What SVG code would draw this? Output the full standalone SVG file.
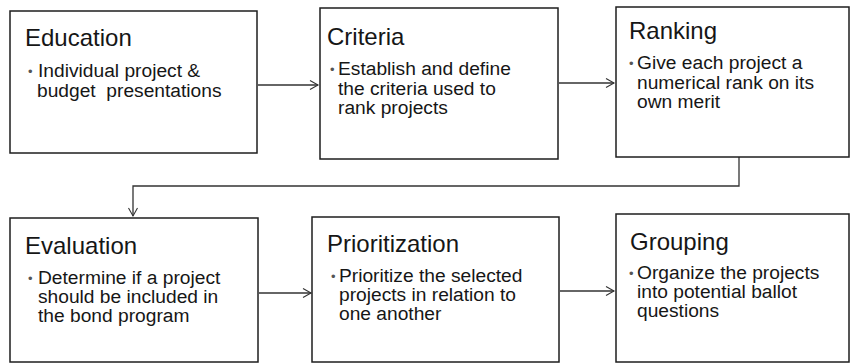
<svg xmlns="http://www.w3.org/2000/svg" width="851" height="364" viewBox="0 0 851 364">
  <defs>
    <marker id="arrow" markerWidth="12" markerHeight="12" refX="10" refY="6" orient="auto" markerUnits="userSpaceOnUse">
      <path d="M2,1.5 L10,6 L2,10.5" fill="none" stroke="#333" stroke-width="1.1"/>
    </marker>
    <style>
      .box { fill: #fff; stroke: #1e1e1e; stroke-width: 1.5; }
      .title { font-family: "Liberation Sans", Arial, sans-serif; font-size: 24px; fill: #161616; }
      .body { font-family: "Liberation Sans", Arial, sans-serif; font-size: 19.2px; fill: #161616; }
      .dot { font-family: "Liberation Sans", Arial, sans-serif; font-size: 13px; fill: #555; }
      .conn { fill: none; stroke: #333; stroke-width: 1.3; }
    </style>
  </defs>

  <rect width="851" height="364" fill="#fff"/>

  <g id="connectors">
    <line class="conn" x1="258" y1="85" x2="318" y2="85" marker-end="url(#arrow)"/>
    <line class="conn" x1="559" y1="83" x2="614" y2="83" marker-end="url(#arrow)"/>
    <polyline class="conn" points="739,157 739,186 133,186 133,216" marker-end="url(#arrow)"/>
    <line class="conn" x1="259" y1="293" x2="311" y2="293" marker-end="url(#arrow)"/>
    <line class="conn" x1="560" y1="291" x2="614" y2="291" marker-end="url(#arrow)"/>
  </g>

  <g id="education">
    <rect class="box" x="10" y="11" width="247" height="142"/>
    <text class="title" x="25" y="46">Education</text>
    <text class="dot" x="28" y="76">•</text>
    <text class="body" x="38" y="77">Individual project &amp;</text>
    <text class="body" x="37" y="97" xml:space="preserve">budget  presentations</text>
  </g>

  <g id="criteria">
    <rect class="box" x="320" y="8" width="238" height="151"/>
    <text class="title" x="327" y="45">Criteria</text>
    <text class="dot" x="330" y="74">•</text>
    <text class="body" x="338" y="75">Establish and define</text>
    <text class="body" x="338" y="95">the criteria used to</text>
    <text class="body" x="338" y="114">rank projects</text>
  </g>

  <g id="ranking">
    <rect class="box" x="616" y="7" width="233" height="150"/>
    <text class="title" x="629" y="39">Ranking</text>
    <text class="dot" x="629" y="68">•</text>
    <text class="body" x="637" y="69">Give each project a</text>
    <text class="body" x="637" y="89">numerical rank on its</text>
    <text class="body" x="637" y="108">own merit</text>
  </g>

  <g id="evaluation">
    <rect class="box" x="10" y="218" width="248" height="144"/>
    <text class="title" x="25" y="254">Evaluation</text>
    <text class="dot" x="28" y="283">•</text>
    <text class="body" x="38" y="284">Determine if a project</text>
    <text class="body" x="38" y="303">should be included in</text>
    <text class="body" x="38" y="322">the bond program</text>
  </g>

  <g id="prioritization">
    <rect class="box" x="312" y="217" width="247" height="145"/>
    <text class="title" x="327" y="252">Prioritization</text>
    <text class="dot" x="331" y="281">•</text>
    <text class="body" x="339" y="282">Prioritize the selected</text>
    <text class="body" x="339" y="301">projects in relation to</text>
    <text class="body" x="339" y="320">one another</text>
  </g>

  <g id="grouping">
    <rect class="box" x="616" y="214" width="233" height="148"/>
    <text class="title" x="630" y="250">Grouping</text>
    <text class="dot" x="629" y="278">•</text>
    <text class="body" x="637" y="279">Organize the projects</text>
    <text class="body" x="637" y="298">into potential ballot</text>
    <text class="body" x="637" y="317">questions</text>
  </g>
</svg>
